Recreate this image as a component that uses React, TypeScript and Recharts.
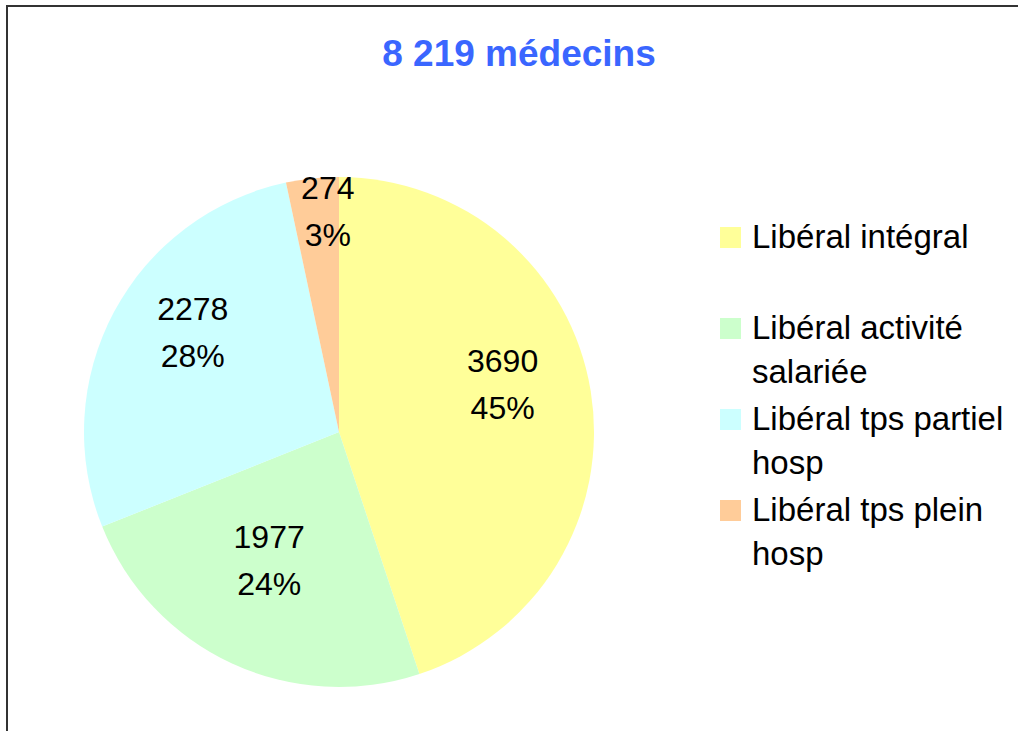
import React from 'react';
import { PieChart, Pie, Cell, Legend } from 'recharts';

const categories = ['Libéral intégral', 'Libéral activité salariée', 'Libéral tps partiel hosp', 'Libéral tps plein hosp'];
const counts = [3690, 1977, 2278, 274];
const percents = ['45%', '24%', '28%', '3%'];
const colors = ['#FFFF99', '#CCFFCC', '#CCFFFF', '#FFCC99'];
const title = '8 219 médecins';

const data = categories.map((name, i) => ({ name, value: counts[i], pct: percents[i] }));

const FONT = 'Arial, "Liberation Sans", sans-serif';
const RAD = Math.PI / 180;

const renderLabel = (props: any) => {
  const { cx, cy, midAngle, outerRadius, percent, index } = props;
  const small = percent < 0.05;
  // small slices get pushed outward, like Excel's best fit; big ones sit a bit higher
  const r = outerRadius * (small ? 0.87 : 0.65);
  const x = cx + r * Math.cos(-midAngle * RAD) + (small ? 12 : 0);
  const y = cy + r * Math.sin(-midAngle * RAD) - (small ? 0 : 22);
  const d = data[index];
  return (
    <text x={x} y={y} textAnchor="middle" fill="#000" fontSize={32} fontFamily={FONT}>
      <tspan x={x} dy={-12}>{d.value}</tspan>
      <tspan x={x} dy={47}>{d.pct}</tspan>
    </text>
  );
};

const CustomLegend: React.FC<any> = () => (
  <div style={{ fontFamily: FONT, fontSize: 33, color: '#000' }}>
    {categories.map((c, i) => (
      <div key={c} style={{ position: 'relative', height: 91, paddingLeft: 32, width: 266, lineHeight: '44px' }}>
        <span style={{ position: 'absolute', left: 0, top: 12, width: 21, height: 21, background: colors[i] }} />
        {c}
      </div>
    ))}
  </div>
);

export default function App() {
  return (
    <div
      style={{
        position: 'absolute',
        left: 6,
        top: 5,
        width: 1012,
        height: 726,
        boxSizing: 'border-box',
        borderLeft: '2px solid #333',
        borderTop: '2px solid #333',
        background: '#fff',
        overflow: 'hidden',
      }}
    >
      <div
        style={{
          position: 'absolute',
          left: 0,
          width: 1022,
          top: 26,
          textAlign: 'center',
          fontFamily: FONT,
          fontWeight: 'bold',
          fontSize: 37,
          color: '#3A66FF',
        }}
      >
        {title}
      </div>
      <PieChart width={1010} height={724} margin={{ top: 0, right: 0, bottom: 0, left: 0 }}>
        <Pie
          data={data}
          dataKey="value"
          nameKey="name"
          cx={331}
          cy={425}
          outerRadius={255}
          startAngle={90}
          endAngle={-270}
          stroke="none"
          label={renderLabel}
          labelLine={false}
          isAnimationActive={false}
        >
          {data.map((d, i) => (
            <Cell key={d.name} fill={colors[i]} />
          ))}
        </Pie>
        <Legend
          content={<CustomLegend />}
          layout="vertical"
          wrapperStyle={{ position: 'absolute', left: 712, top: 208, width: 300 }}
        />
      </PieChart>
    </div>
  );
}
